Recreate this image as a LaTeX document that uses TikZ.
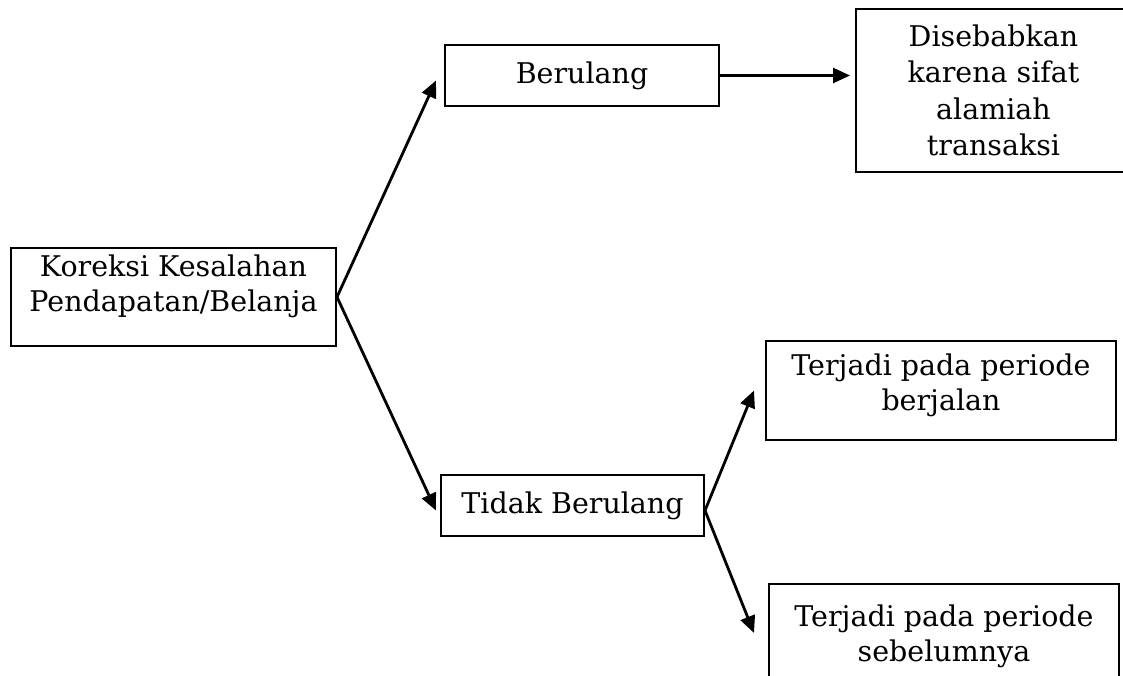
\documentclass[tikz,border=0pt]{standalone}
\usepackage{fontspec}
\setmainfont{DejaVu Serif}
\usetikzlibrary{positioning,arrows.meta}

\begin{document}
\begin{tikzpicture}[
    x=1pt, y=-1pt,
    box/.style={rectangle, draw, line width=2pt, inner sep=0pt, anchor=north west, align=center, font=\fontsize{28.5}{35.5}\selectfont},
    txt/.style={align=center, inner sep=0pt, font=\fontsize{28.5}{35}\selectfont},
    arrow/.style={-{Triangle[length=17pt,width=15pt]}, line width=2.8pt}
]
\useasboundingbox (0,0) rectangle (1123,675);
\clip (0,0) rectangle (1123,675);

% boxes
\node[box, minimum width=325pt, minimum height=98pt] (koreksi) at (10,247) {};
\node[txt, below=8pt of koreksi.north] (koreksitext) {Koreksi Kesalahan\\Pendapatan/Belanja};

\node[box, minimum width=274pt, minimum height=61pt] (berulang) at (444,44) {Berulang};
\node[box, minimum width=275pt, minimum height=163pt, font=\fontsize{28.5}{36.5}\selectfont] (disebab) at (855,8) {Disebabkan\\karena sifat\\alamiah\\transaksi};

\node[box, minimum width=263pt, minimum height=61pt] (tidak) at (440,474) {Tidak Berulang};

\node[box, minimum width=350pt, minimum height=99pt] (berjalan) at (765,340) {};
\node[txt, below=14pt of berjalan.north] (berjalantext) {Terjadi pada periode\\berjalan};

\node[box, minimum width=350pt, minimum height=98pt] (sebelum) at (768,583) {};
\node[txt, below=22pt of sebelum.north] (sebelumtext) {Terjadi pada periode\\sebelumnya};

% connectors
\draw[arrow] (koreksi.east) -- ([xshift=-8pt,yshift=-5pt]berulang.west);
\draw[arrow] (koreksi.east) -- ([xshift=-4pt,yshift=-5pt]tidak.west);
\draw[arrow, shorten >=5pt] (berulang.east) -- (berulang.east -| disebab.west);
\draw[arrow] ([yshift=-5pt]tidak.east) -- ([xshift=-11pt]berjalan.west);
\draw[arrow] ([yshift=-5pt]tidak.east) -- ([xshift=-14pt]sebelum.west);
\end{tikzpicture}
\end{document}
